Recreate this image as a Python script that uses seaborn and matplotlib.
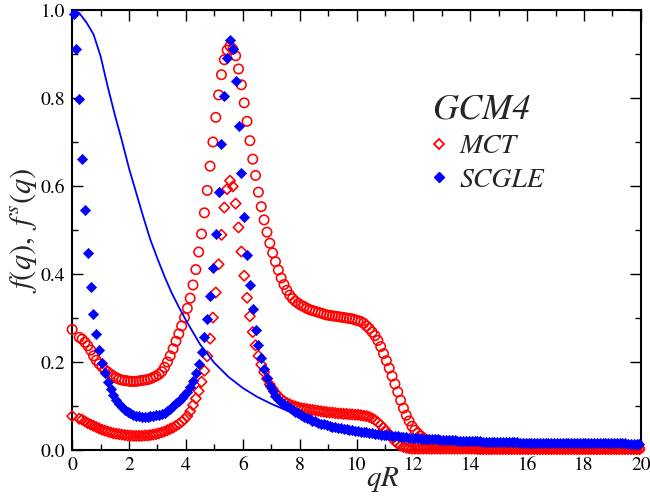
import numpy as np
import matplotlib
matplotlib.use("Agg")
import matplotlib.pyplot as plt
from matplotlib.lines import Line2D
from matplotlib.ticker import MultipleLocator, FormatStrFormatter
from matplotlib.font_manager import FontProperties
import seaborn as sns

# ---------------------------------------------------------------------------
# Non-ergodicity parameters of the GCM4 model
# ---------------------------------------------------------------------------
# SCGLE grid: qR = 0.05, 0.15, ..., 19.95
q_scgle = np.linspace(0.05, 19.95, 200)
# MCT grid: qR = 0, then 0.25, 0.35, ..., 19.95
q_mct = np.concatenate([[0.0], np.linspace(0.25, 19.95, 198)])

# SCGLE f(q)
scgle_f = [
    0.990, 0.912, 0.798, 0.662, 0.545, 0.448, 0.371, 0.310, 0.263, 0.227,
    0.197, 0.174, 0.155, 0.138, 0.124, 0.113, 0.104, 0.097, 0.091, 0.086,
    0.083, 0.080, 0.078, 0.077, 0.076, 0.076, 0.076, 0.077, 0.078, 0.079,
    0.080, 0.082, 0.085, 0.089, 0.094, 0.100, 0.106, 0.112, 0.119, 0.125,
    0.132, 0.143, 0.157, 0.175, 0.196, 0.223, 0.257, 0.298, 0.350, 0.414,
    0.492, 0.587, 0.695, 0.804, 0.890, 0.932, 0.911, 0.839, 0.736, 0.629,
    0.529, 0.444, 0.374, 0.320, 0.273, 0.238, 0.209, 0.184, 0.163, 0.146,
    0.133, 0.123, 0.115, 0.109, 0.104, 0.099, 0.095, 0.091, 0.087, 0.083,
    0.079, 0.076, 0.073, 0.070, 0.067, 0.065, 0.062, 0.060, 0.058, 0.056,
    0.055, 0.053, 0.052, 0.050, 0.049, 0.048, 0.047, 0.046, 0.045, 0.044,
    0.043, 0.042, 0.041, 0.040, 0.039, 0.038, 0.037, 0.036, 0.035, 0.034,
    0.034, 0.033, 0.032, 0.032, 0.031, 0.030, 0.030, 0.029, 0.028, 0.028,
    0.027, 0.027, 0.026, 0.026, 0.025, 0.025, 0.024, 0.024, 0.024, 0.023,
    0.023, 0.023, 0.022, 0.022, 0.022, 0.021, 0.021, 0.021, 0.021, 0.020,
    0.020, 0.020, 0.020, 0.020, 0.019, 0.019, 0.019, 0.019, 0.019, 0.019,
    0.018, 0.018, 0.018, 0.018, 0.018, 0.018, 0.018, 0.017, 0.017, 0.017,
    0.017, 0.017, 0.017, 0.017, 0.017, 0.017, 0.016, 0.016, 0.016, 0.016,
    0.016, 0.016, 0.016, 0.016, 0.016, 0.016, 0.016, 0.016, 0.016, 0.016,
    0.016, 0.015, 0.015, 0.015, 0.015, 0.015, 0.015, 0.015, 0.015, 0.015,
    0.015, 0.015, 0.015, 0.015, 0.015, 0.014, 0.014, 0.014, 0.014, 0.014,
]

# MCT f(q) (collective)
mct_f = [
    0.274,
    0.256, 0.252, 0.245, 0.237, 0.227, 0.214, 0.204, 0.196, 0.189, 0.182,
    0.177, 0.172, 0.168, 0.164, 0.161, 0.159, 0.158, 0.157, 0.156, 0.156,
    0.156, 0.157, 0.158, 0.159, 0.160, 0.162, 0.165, 0.168, 0.172, 0.178,
    0.188, 0.200, 0.214, 0.230, 0.247, 0.264, 0.282, 0.301, 0.322, 0.345,
    0.375, 0.410, 0.450, 0.491, 0.539, 0.590, 0.645, 0.700, 0.756, 0.807,
    0.853, 0.887, 0.909, 0.918, 0.911, 0.896, 0.866, 0.830, 0.789, 0.747,
    0.703, 0.661, 0.624, 0.586, 0.553, 0.523, 0.495, 0.470, 0.448, 0.428,
    0.409, 0.391, 0.376, 0.363, 0.352, 0.344, 0.338, 0.333, 0.329, 0.326,
    0.322, 0.319, 0.317, 0.315, 0.313, 0.311, 0.309, 0.307, 0.306, 0.305,
    0.304, 0.303, 0.302, 0.301, 0.300, 0.299, 0.298, 0.296, 0.294, 0.292,
    0.288, 0.282, 0.276, 0.268, 0.260, 0.249, 0.235, 0.219, 0.203, 0.186,
    0.168, 0.150, 0.132, 0.113, 0.095, 0.079, 0.066, 0.054, 0.045, 0.038,
    0.032, 0.027, 0.023, 0.020, 0.017, 0.015, 0.013, 0.012, 0.011, 0.010,
    0.009, 0.009, 0.008, 0.008, 0.007, 0.007, 0.007, 0.006, 0.006, 0.006,
    0.006, 0.005, 0.005, 0.005, 0.005, 0.005, 0.005, 0.005, 0.005, 0.005,
    0.005, 0.005, 0.005, 0.005, 0.005, 0.004, 0.004, 0.004, 0.004, 0.004,
    0.004, 0.004, 0.004, 0.004, 0.004, 0.004, 0.004, 0.004, 0.004, 0.004,
    0.004, 0.004, 0.004, 0.004, 0.004, 0.003, 0.003, 0.003, 0.003, 0.003,
    0.003, 0.003, 0.003, 0.003, 0.003, 0.003, 0.003, 0.003, 0.003, 0.003,
    0.003, 0.003, 0.003, 0.003, 0.003, 0.003, 0.003, 0.003,
]

# MCT f^s(q) (self part)
mct_fs = [
    0.077,
    0.071, 0.069, 0.065, 0.061, 0.058, 0.055, 0.052, 0.049, 0.046, 0.044,
    0.042, 0.040, 0.038, 0.037, 0.036, 0.035, 0.034, 0.033, 0.033, 0.032,
    0.032, 0.032, 0.032, 0.033, 0.033, 0.034, 0.035, 0.036, 0.038, 0.040,
    0.042, 0.045, 0.048, 0.051, 0.055, 0.059, 0.064, 0.070, 0.077, 0.088,
    0.102, 0.117, 0.134, 0.155, 0.180, 0.213, 0.253, 0.301, 0.358, 0.422,
    0.489, 0.551, 0.593, 0.612, 0.599, 0.560, 0.506, 0.451, 0.396, 0.346,
    0.304, 0.268, 0.238, 0.214, 0.194, 0.177, 0.162, 0.149, 0.139, 0.130,
    0.122, 0.116, 0.111, 0.107, 0.104, 0.101, 0.099, 0.097, 0.095, 0.094,
    0.093, 0.092, 0.091, 0.090, 0.089, 0.088, 0.087, 0.086, 0.085, 0.085,
    0.084, 0.083, 0.083, 0.082, 0.082, 0.081, 0.081, 0.080, 0.080, 0.079,
    0.078, 0.077, 0.075, 0.072, 0.068, 0.063, 0.057, 0.050, 0.043, 0.035,
    0.027, 0.020, 0.014, 0.010, 0.007, 0.005, 0.004, 0.003, 0.003, 0.003,
    0.003, 0.003, 0.003, 0.003, 0.003, 0.003, 0.003, 0.003, 0.003, 0.003,
    0.003, 0.003, 0.003, 0.003, 0.003, 0.003, 0.003, 0.003, 0.003, 0.003,
    0.002, 0.002, 0.002, 0.002, 0.002, 0.002, 0.002, 0.002, 0.002, 0.002,
    0.002, 0.002, 0.002, 0.002, 0.002, 0.002, 0.002, 0.002, 0.002, 0.002,
    0.002, 0.002, 0.002, 0.002, 0.002, 0.002, 0.002, 0.002, 0.002, 0.002,
    0.002, 0.002, 0.002, 0.002, 0.002, 0.002, 0.002, 0.002, 0.002, 0.002,
    0.002, 0.002, 0.002, 0.002, 0.002, 0.002, 0.002, 0.002, 0.002, 0.002,
    0.002, 0.002, 0.002, 0.002, 0.002, 0.002, 0.002, 0.002,
]

# SCGLE f^s(q), solid curve
q_line = [0.0, 0.25, 0.5, 0.75, 1.0, 1.25, 1.5, 1.75, 2.0, 2.25, 2.5, 2.75,
          3.0, 3.25, 3.5, 3.75, 4.0, 4.5, 5.0, 5.5, 6.0, 6.5, 7.0, 7.5, 8.0,
          9.0, 10.0, 11.0, 12.0, 13.0, 14.0, 15.0, 16.0, 17.0, 18.0, 19.0, 20.0]
scgle_fs = [1.000, 0.993, 0.972, 0.945, 0.895, 0.826, 0.762, 0.703, 0.640,
            0.585, 0.530, 0.478, 0.435, 0.394, 0.357, 0.325, 0.295, 0.240,
            0.198, 0.166, 0.141, 0.121, 0.105, 0.091, 0.079, 0.060, 0.047,
            0.038, 0.031, 0.026, 0.022, 0.019, 0.017, 0.015, 0.013, 0.012,
            0.011]

# ---------------------------------------------------------------------------
sns.set_style("ticks", {"xtick.direction": "in", "ytick.direction": "in"})
plt.rcParams["font.family"] = ["STIXGeneral", "DejaVu Serif"]
plt.rcParams["mathtext.fontset"] = "stix"

fig = plt.figure(figsize=(6.5, 5), dpi=100)
ax = fig.add_axes([0.111, 0.10, 0.875, 0.88])

sns.scatterplot(x=q_mct, y=mct_f, marker="o", s=46, facecolors="none",
                edgecolors="red", linewidths=1.15, clip_on=False, zorder=3,
                ax=ax)
sns.scatterplot(x=q_mct, y=mct_fs, marker="D", s=28, facecolors="none",
                edgecolors="red", linewidths=1.15, clip_on=False, zorder=3,
                ax=ax)
sns.scatterplot(x=q_scgle, y=scgle_f, marker="D", s=28, color="blue",
                edgecolor="blue", linewidth=0.4, clip_on=False, zorder=4,
                ax=ax)
sns.lineplot(x=q_line, y=scgle_fs, color="blue", linewidth=1.3, sort=False,
             estimator=None, zorder=5, ax=ax)

ax.set_xlim(0, 20)
ax.set_ylim(0, 1.0)
ax.xaxis.set_major_locator(MultipleLocator(2))
ax.xaxis.set_minor_locator(MultipleLocator(1))
ax.yaxis.set_major_locator(MultipleLocator(0.2))
ax.yaxis.set_minor_locator(MultipleLocator(0.1))
ax.yaxis.set_major_formatter(FormatStrFormatter("%.1f"))
ax.tick_params(which="both", direction="in", top=True, right=True,
               width=1.0, labelsize=14, colors="black")
ax.tick_params(which="major", length=8, pad=5)
ax.tick_params(which="minor", length=4)
for sp in ax.spines.values():
    sp.set_linewidth(1.5)
    sp.set_color("black")

ax.set_xlabel(r"$qR$", fontsize=21)
ax.xaxis.set_label_coords(0.546, -0.035)
ax.set_ylabel(r"$f(q),\ f^{s}(q)$", fontsize=22, labelpad=1)

handles = [
    Line2D([], [], marker="D", ls="", mfc="none", mec="red", ms=5.5, mew=1.3),
    Line2D([], [], marker="D", ls="", mfc="blue", mec="blue", ms=5.5),
]
ax.legend(handles, ["MCT", "SCGLE"], title="GCM4", loc="upper left",
          bbox_to_anchor=(0.633, 0.81), frameon=False,
          prop=FontProperties(family="STIXGeneral", style="italic", size=20),
          title_fontproperties=FontProperties(family="STIXGeneral",
                                              style="italic", size=26),
          alignment="left", handlelength=0.5, handletextpad=0.5,
          labelspacing=0.3, borderpad=0, borderaxespad=0)

fig.savefig("out.png", dpi=100)
